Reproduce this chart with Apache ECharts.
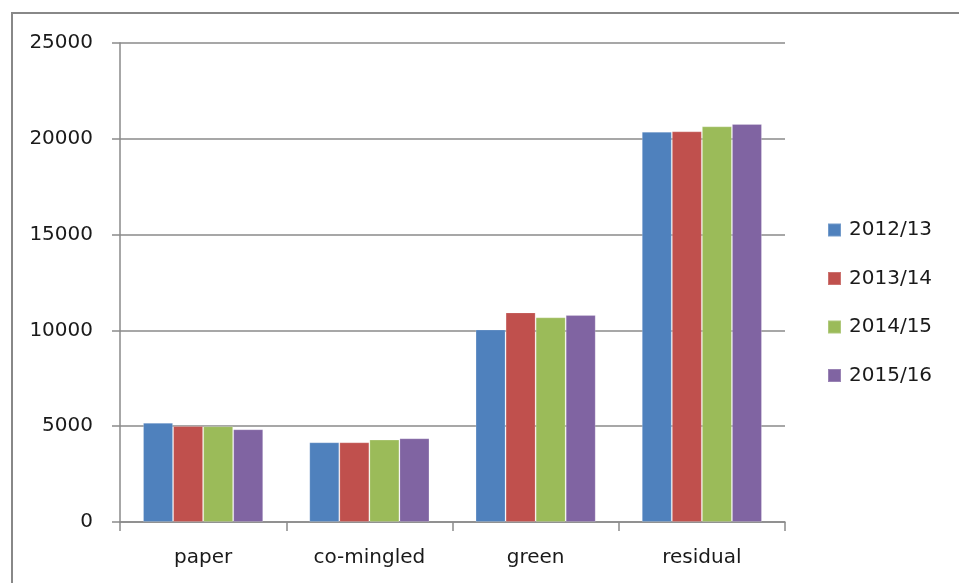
<!DOCTYPE html>
<html>
<head>
<meta charset="utf-8">
<title>Waste collected by stream</title>
<script src="https://cdn.jsdelivr.net/npm/echarts@6/dist/echarts.min.js"></script>
<style>
  html, body { margin: 0; padding: 0; background: #fff; }
  #frame { position: absolute; left: 11px; top: 12px; width: 960px; height: 580px;
           border-left: 2px solid #888; border-top: 2px solid #888; box-sizing: border-box; }
  #chart { position: absolute; left: 0; top: 0; width: 959px; height: 583px; }
</style>
</head>
<body>
<div id="frame"></div>
<div id="chart"></div>
<script>
// Waste streams on the category axis
const categories = ['paper', 'co-mingled', 'green', 'residual'];

// Yearly tonnage per stream
const years = ['2012/13', '2013/14', '2014/15', '2015/16'];
const values2012 = [5180, 4160, 10050, 20370];
const values2013 = [5010, 4160, 10940, 20390];
const values2014 = [5000, 4300, 10680, 20650];
const values2015 = [4840, 4370, 10800, 20770];

// Value axis ticks
const yTicks = [0, 5000, 10000, 15000, 20000, 25000];

const seriesValues = [values2012, values2013, values2014, values2015];
const colors = ['#4F81BD', '#C0504D', '#9BBB59', '#8064A2'];
const font = 'DejaVu Sans';

const chart = echarts.init(document.getElementById('chart'), null, { renderer: 'canvas' });

chart.setOption({
  animation: false,
  backgroundColor: 'transparent',
  color: colors,
  grid: { left: 120, right: 174, top: 43, bottom: 61, containLabel: false },
  legend: {
    orient: 'vertical',
    left: 827,
    top: 220,
    padding: 0,
    itemWidth: 13,
    itemHeight: 13,
    itemGap: 28.5,
    icon: 'rect',
    data: years,
    textStyle: { fontFamily: font, fontSize: 20, color: '#1a1a1a', padding: [0, 0, 0, 3] }
  },
  xAxis: {
    type: 'category',
    data: categories,
    axisLine: { show: true, lineStyle: { color: '#8a8a8a', width: 1.5 } },
    axisTick: { show: true, length: 9, alignWithLabel: false, lineStyle: { color: '#8a8a8a', width: 1.5 } },
    axisLabel: { fontFamily: font, fontSize: 20, color: '#1a1a1a', margin: 26 },
    splitLine: { show: false }
  },
  yAxis: {
    type: 'value',
    min: yTicks[0],
    max: yTicks[yTicks.length - 1],
    interval: yTicks[1] - yTicks[0],
    axisLine: { show: true, lineStyle: { color: '#8a8a8a', width: 1.5 } },
    axisTick: { show: true, length: 8, lineStyle: { color: '#8a8a8a', width: 1.5 } },
    axisLabel: { fontFamily: font, fontSize: 20, color: '#1a1a1a', margin: 27,
                 formatter: (v) => String(v) },
    splitLine: { show: true, lineStyle: { color: '#8a8a8a', width: 1.5 } }
  },
  series: years.map((name, i) => ({
    name: name,
    type: 'bar',
    data: seriesValues[i],
    barGap: '0%',
    barCategoryGap: '27.7%',
    itemStyle: { color: colors[i], borderColor: 'rgba(255,255,255,0.2)', borderWidth: 1 }
  }))
});
</script>
</body>
</html>
